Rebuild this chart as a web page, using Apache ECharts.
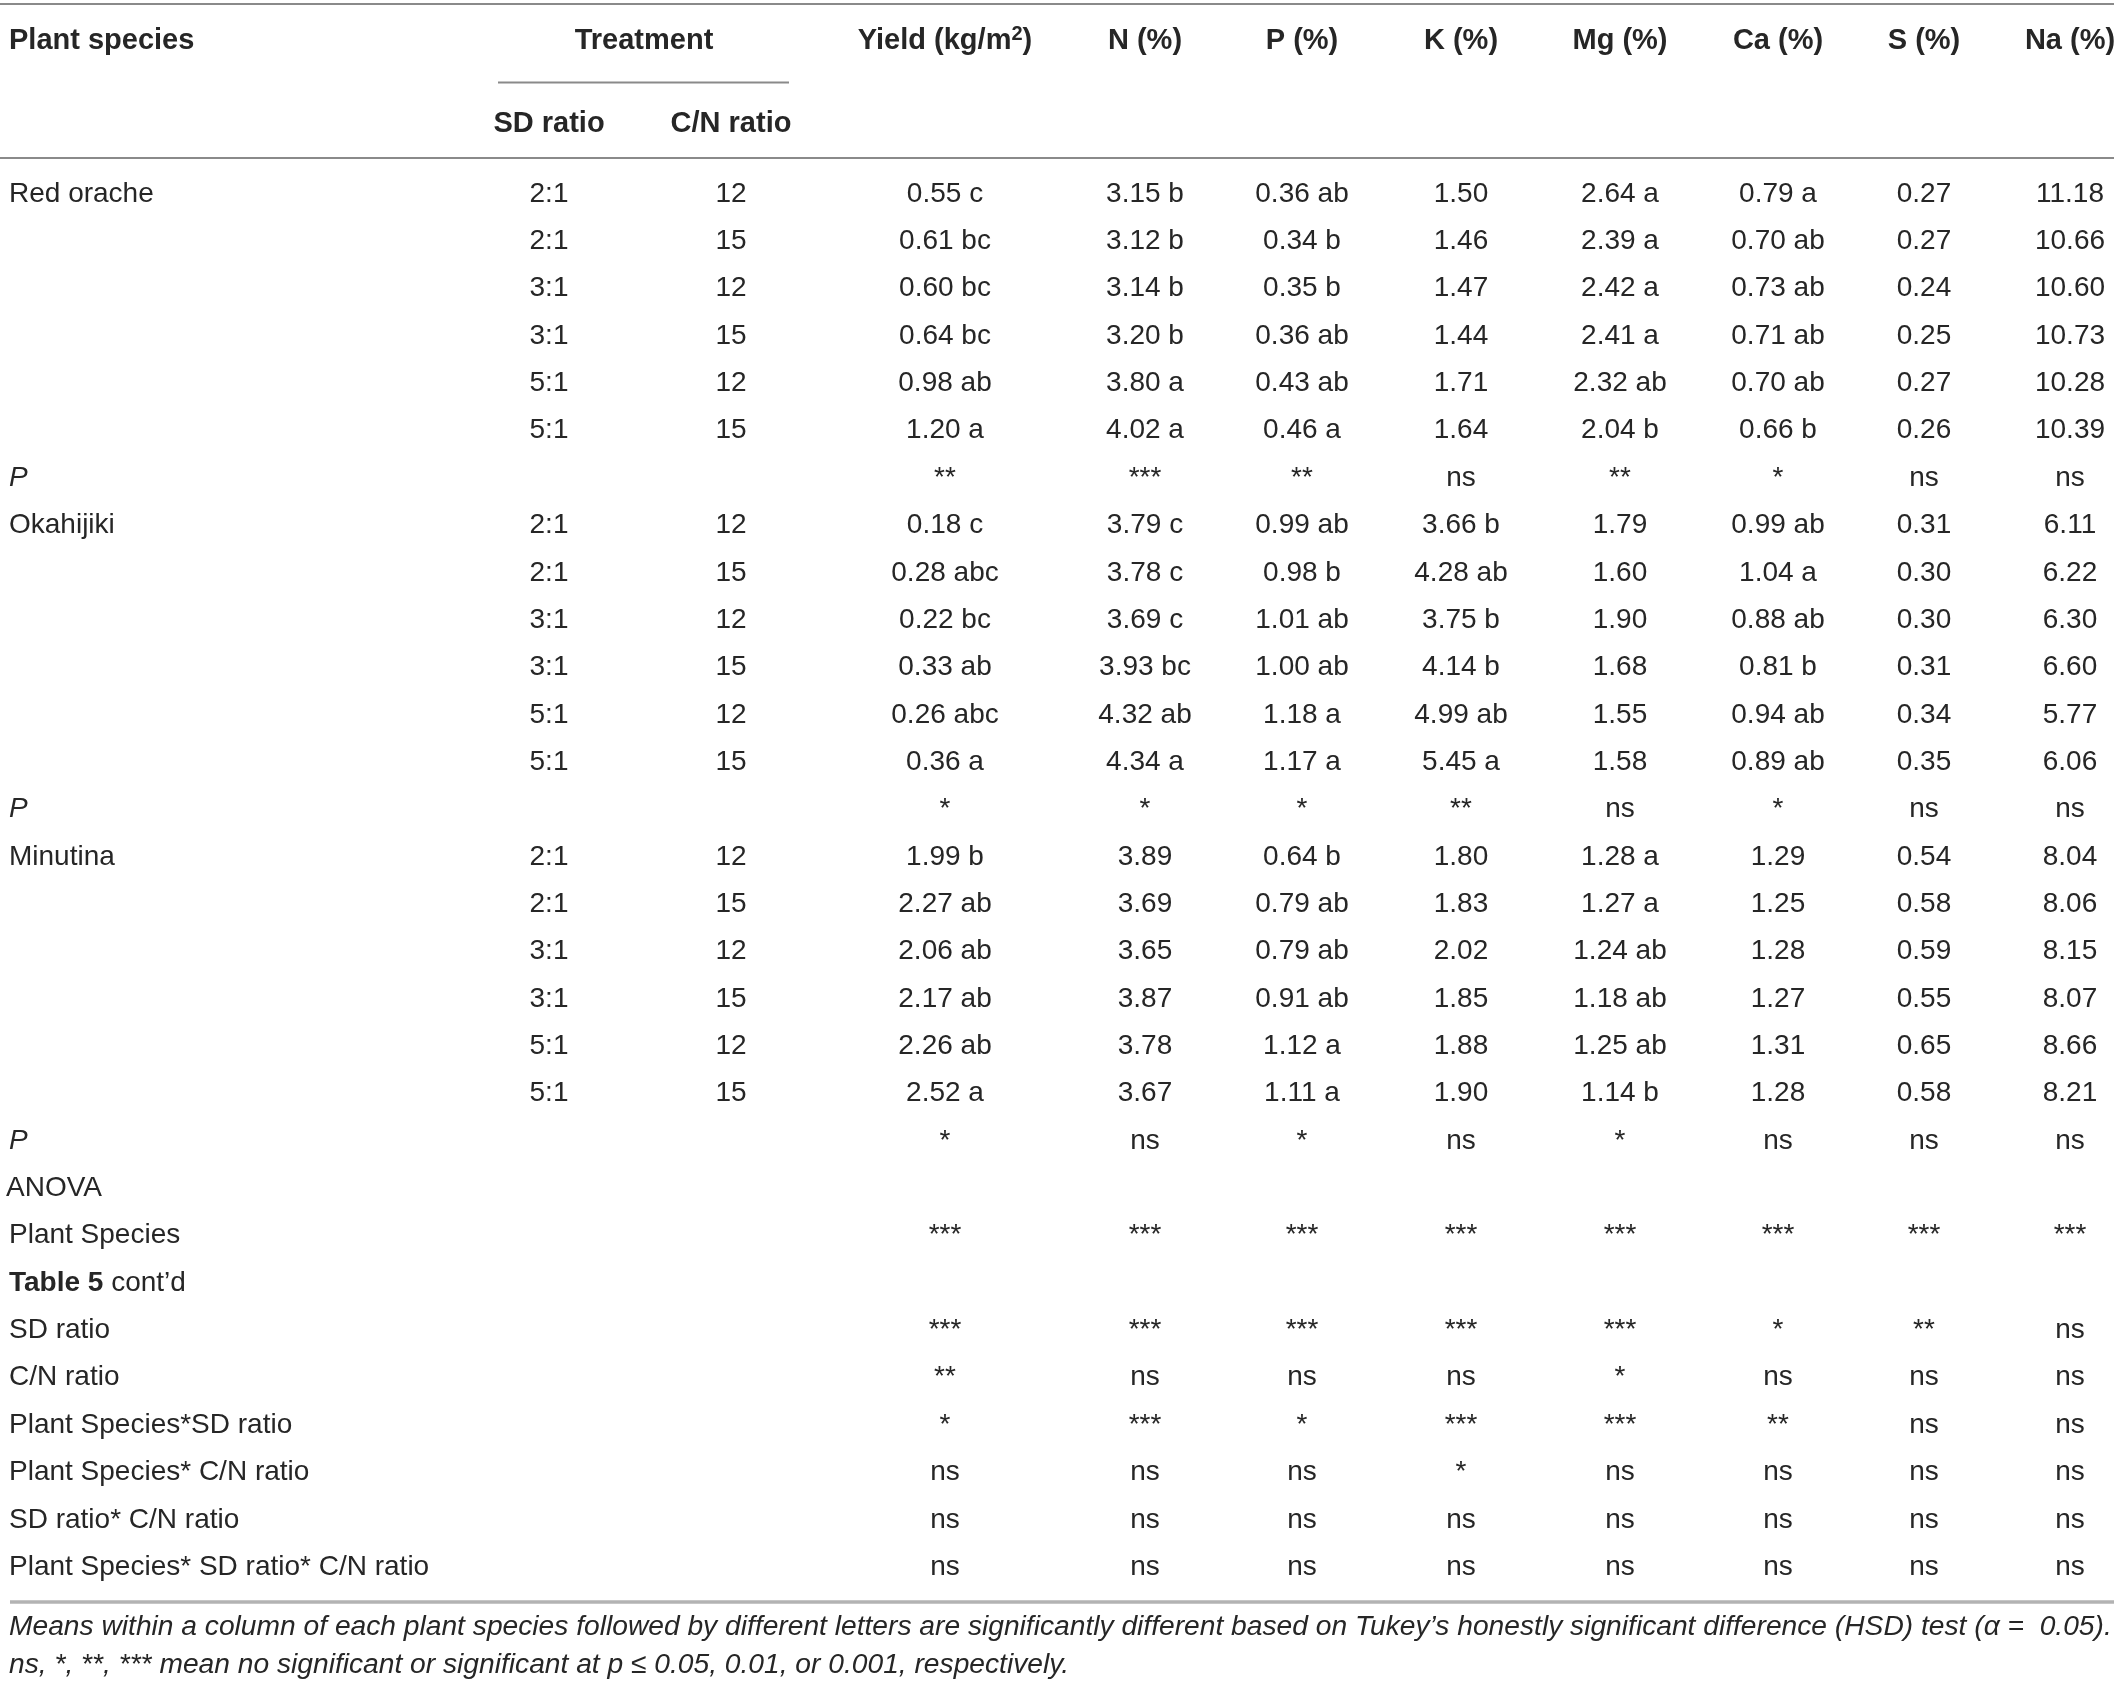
<!DOCTYPE html>
<html><head><meta charset="utf-8">
<script src="https://cdn.jsdelivr.net/npm/echarts@6/dist/echarts.min.js"></script>
<style>html,body{margin:0;padding:0;background:#fff}#c{width:2122px;height:1688px}</style>
</head><body><div id="c"></div>
<script>
// ---------- data ----------
const species = ['Red orache', 'Okahijiki', 'Minutina'];
const sdRatios = ['2:1', '2:1', '3:1', '3:1', '5:1', '5:1'];
const cnRatios = ['12', '15', '12', '15', '12', '15'];
const valueColumns = ['Yield (kg/m2)', 'N (%)', 'P (%)', 'K (%)', 'Mg (%)', 'Ca (%)', 'S (%)', 'Na (%)'];

const redOrache = [
  ['0.55 c', '3.15 b', '0.36 ab', '1.50', '2.64 a', '0.79 a', '0.27', '11.18'],
  ['0.61 bc', '3.12 b', '0.34 b', '1.46', '2.39 a', '0.70 ab', '0.27', '10.66'],
  ['0.60 bc', '3.14 b', '0.35 b', '1.47', '2.42 a', '0.73 ab', '0.24', '10.60'],
  ['0.64 bc', '3.20 b', '0.36 ab', '1.44', '2.41 a', '0.71 ab', '0.25', '10.73'],
  ['0.98 ab', '3.80 a', '0.43 ab', '1.71', '2.32 ab', '0.70 ab', '0.27', '10.28'],
  ['1.20 a', '4.02 a', '0.46 a', '1.64', '2.04 b', '0.66 b', '0.26', '10.39']
];
const redOracheP = ['**', '***', '**', 'ns', '**', '*', 'ns', 'ns'];

const okahijiki = [
  ['0.18 c', '3.79 c', '0.99 ab', '3.66 b', '1.79', '0.99 ab', '0.31', '6.11'],
  ['0.28 abc', '3.78 c', '0.98 b', '4.28 ab', '1.60', '1.04 a', '0.30', '6.22'],
  ['0.22 bc', '3.69 c', '1.01 ab', '3.75 b', '1.90', '0.88 ab', '0.30', '6.30'],
  ['0.33 ab', '3.93 bc', '1.00 ab', '4.14 b', '1.68', '0.81 b', '0.31', '6.60'],
  ['0.26 abc', '4.32 ab', '1.18 a', '4.99 ab', '1.55', '0.94 ab', '0.34', '5.77'],
  ['0.36 a', '4.34 a', '1.17 a', '5.45 a', '1.58', '0.89 ab', '0.35', '6.06']
];
const okahijikiP = ['*', '*', '*', '**', 'ns', '*', 'ns', 'ns'];

const minutina = [
  ['1.99 b', '3.89', '0.64 b', '1.80', '1.28 a', '1.29', '0.54', '8.04'],
  ['2.27 ab', '3.69', '0.79 ab', '1.83', '1.27 a', '1.25', '0.58', '8.06'],
  ['2.06 ab', '3.65', '0.79 ab', '2.02', '1.24 ab', '1.28', '0.59', '8.15'],
  ['2.17 ab', '3.87', '0.91 ab', '1.85', '1.18 ab', '1.27', '0.55', '8.07'],
  ['2.26 ab', '3.78', '1.12 a', '1.88', '1.25 ab', '1.31', '0.65', '8.66'],
  ['2.52 a', '3.67', '1.11 a', '1.90', '1.14 b', '1.28', '0.58', '8.21']
];
const minutinaP = ['*', 'ns', '*', 'ns', '*', 'ns', 'ns', 'ns'];

const anovaTerms = ['Plant Species', 'SD ratio', 'C/N ratio', 'Plant Species*SD ratio',
  'Plant Species* C/N ratio', 'SD ratio* C/N ratio', 'Plant Species* SD ratio* C/N ratio'];
const anovaSig = [
  ['***', '***', '***', '***', '***', '***', '***', '***'],
  ['***', '***', '***', '***', '***', '*', '**', 'ns'],
  ['**', 'ns', 'ns', 'ns', '*', 'ns', 'ns', 'ns'],
  ['*', '***', '*', '***', '***', '**', 'ns', 'ns'],
  ['ns', 'ns', 'ns', '*', 'ns', 'ns', 'ns', 'ns'],
  ['ns', 'ns', 'ns', 'ns', 'ns', 'ns', 'ns', 'ns'],
  ['ns', 'ns', 'ns', 'ns', 'ns', 'ns', 'ns', 'ns']
];
const footnotes = [
  'Means within a column of each plant species followed by different letters are significantly different based on Tukey\u2019s honestly significant difference (HSD) test (\u03b1 =  0.05).',
  'ns, *, **, *** mean no significant or significant at p \u2264 0.05, 0.01, or 0.001, respectively.'
];

// ---------- layout ----------
const W = 2122, H = 1688;
const FONT = '"Liberation Sans", Arial, sans-serif';
const TEXT = '#262626';
const FS = 28;
const HFS = 29;
const colLeft = 9;
const colSD = 549, colCN = 731;
const colValues = [945, 1145, 1302, 1461, 1620, 1778, 1924, 2070];
const colTreatment = 644;
const headY1 = 41, headY2 = 124;
const rowY0 = 194, rowStep = 47.35;
const rowY = r => rowY0 + r * rowStep;

const cells = [];
function add(text, x, y, opt) { cells.push(Object.assign({ text, x, y, align: 'center' }, opt || {})); }
const bold = { weight: 'bold', size: HFS };

// header
add('Plant species', colLeft, headY1, Object.assign({ align: 'left' }, bold));
add('Treatment', colTreatment, headY1, bold);
add('{b|Yield (kg/m}{s|2}{b|)}', colValues[0], headY1, {
  rich: {
    b: { fontSize: HFS, fontWeight: 'bold', fontFamily: FONT, fill: TEXT },
    s: { fontSize: 20, fontWeight: 'bold', fontFamily: FONT, fill: TEXT, padding: [0, 0, 14, 0] }
  }
});
valueColumns.slice(1).forEach((c, i) => add(c, colValues[i + 1], headY1, bold));
add('SD ratio', colSD, headY2, bold);
add('C/N ratio', colCN, headY2, bold);

// body
const speciesRows = [redOrache, okahijiki, minutina];
const speciesP = [redOracheP, okahijikiP, minutinaP];
let r = 0;
species.forEach((sp, si) => {
  speciesRows[si].forEach((vals, ri) => {
    const y = rowY(r);
    if (ri === 0) add(sp, colLeft, y, { align: 'left' });
    add(sdRatios[ri], colSD, y);
    add(cnRatios[ri], colCN, y);
    vals.forEach((v, ci) => add(v, colValues[ci], y));
    r++;
  });
  const y = rowY(r);
  add('P', colLeft, y, { align: 'left', style: 'italic' });
  speciesP[si].forEach((v, ci) => add(v, colValues[ci], y));
  r++;
});
add('ANOVA', 6, rowY(r), { align: 'left' });
r++;
anovaTerms.forEach((t, ti) => {
  if (ti === 1) {
    add('{b|Table 5}{n| cont\u2019d}', colLeft, rowY(r), {
      align: 'left',
      rich: {
        b: { fontSize: FS, fontWeight: 'bold', fontFamily: FONT, fill: TEXT },
        n: { fontSize: FS, fontFamily: FONT, fill: TEXT }
      }
    });
    r++;
  }
  const y = rowY(r);
  add(t, colLeft, y, { align: 'left' });
  anovaSig[ti].forEach((v, ci) => add(v, colValues[ci], y));
  r++;
});
add(footnotes[0], colLeft, 1627, { align: 'left', style: 'italic', size: 28.2 });
add(footnotes[1], colLeft, 1665, { align: 'left', style: 'italic', size: 28.2 });

// rules
const rules = [
  { x1: 0, x2: 2114, y: 4, w: 2, c: '#8a8a8a' },
  { x1: 498, x2: 789, y: 82.5, w: 2, c: '#8a8a8a' },
  { x1: 0, x2: 2114, y: 158, w: 2, c: '#8a8a8a' },
  { x1: 10, x2: 2114, y: 1602, w: 3.5, c: '#b3b3b3' }
];

// ---------- chart ----------
const chart = echarts.init(document.getElementById('c'), null, { renderer: 'canvas' });
chart.setOption({
  animation: false,
  backgroundColor: '#ffffff',
  grid: { left: 0, right: 0, top: 0, bottom: 0 },
  xAxis: { type: 'value', min: 0, max: W, show: false },
  yAxis: { type: 'value', min: 0, max: H, inverse: true, show: false },
  series: [
    {
      type: 'custom',
      silent: true,
      clip: false,
      data: rules.map(l => [l.x1, l.y]),
      encode: { x: 0, y: 1 },
      renderItem: (params, api) => {
        const l = rules[params.dataIndex];
        const a = api.coord([l.x1, l.y]);
        const b = api.coord([l.x2, l.y]);
        return { type: 'line', shape: { x1: a[0], y1: a[1], x2: b[0], y2: b[1] },
          style: { stroke: l.c, lineWidth: l.w } };
      }
    },
    {
      type: 'custom',
      silent: true,
      clip: false,
      data: cells.map(c => [c.x, c.y]),
      encode: { x: 0, y: 1 },
      renderItem: (params, api) => {
        const c = cells[params.dataIndex];
        const p = api.coord([c.x, c.y]);
        const style = {
          text: c.text,
          fill: TEXT,
          fontFamily: FONT,
          fontSize: c.size || FS,
          fontWeight: c.weight || 'normal',
          fontStyle: c.style || 'normal',
          align: c.align,
          verticalAlign: 'middle'
        };
        if (c.rich) style.rich = c.rich;
        return { type: 'text', x: p[0], y: p[1], style };
      }
    }
  ]
});
</script>
</body></html>
